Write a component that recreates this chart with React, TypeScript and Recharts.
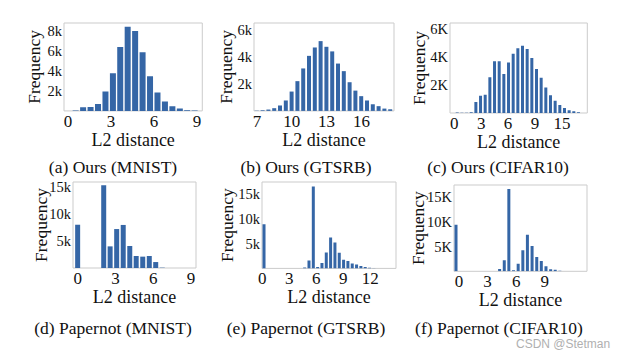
import React from "react";
import { BarChart, Bar, XAxis, YAxis, ReferenceArea, Label } from "recharts";

// Bin centres (L2 distance) and counts
const oursMnistBins = [0.53, 1.05, 1.57, 2.09, 2.61, 3.13, 3.64, 4.16, 4.68, 5.2, 5.72, 6.24, 6.76, 7.28, 7.8, 8.31, 8.83];
const oursMnistCounts = [30, 370, 400, 700, 1930, 3770, 6400, 8430, 8000, 5870, 3470, 1830, 930, 470, 230, 70, 30];

const oursGtsrbBins = [7, 7.5, 8, 8.5, 9, 9.5, 10, 10.5, 11, 11.5, 12, 12.5, 13, 13.5, 14, 14.5, 15, 15.5, 16, 16.5, 17, 17.5, 18, 18.5];
const oursGtsrbCounts = [20, 50, 100, 200, 400, 770, 1430, 2200, 3140, 4070, 4690, 5160, 4740, 4400, 3500, 2940, 2120, 1500, 1090, 770, 490, 350, 170, 120];

const oursCifarBins = [0.34, 0.86, 1.38, 1.9, 2.42, 2.94, 3.46, 3.98, 4.5, 5.02, 5.54, 6.06, 6.58, 7.1, 7.62, 8.14, 8.66, 9.18, 9.7, 10.22, 10.74, 11.26, 11.78, 12.3, 12.82, 13.34, 13.86];
const oursCifarCounts = [40, 20, 20, 60, 790, 1240, 1310, 2550, 3690, 3690, 2790, 3600, 4240, 4620, 4810, 4570, 3930, 3140, 2520, 1830, 1260, 880, 570, 360, 190, 120, 50];

const papMnistBins = [0, 2.07, 2.58, 3.1, 3.62, 4.14, 4.65, 5.17, 5.69, 6.2, 6.72];
const papMnistCounts = [8000, 15300, 4000, 7200, 7960, 4070, 2220, 2100, 2220, 1100, 60];

const papGtsrbBins = [0.2, 4.71, 5.19, 5.67, 6.15, 6.63, 7.11, 7.59, 8.07, 8.55, 9.03, 9.51, 9.99, 10.47, 10.95, 11.43, 11.91, 12.39];
const papGtsrbCounts = [8850, 200, 1600, 16400, 270, 1070, 3200, 6200, 5200, 3130, 1730, 1470, 1000, 800, 470, 270, 130, 50];

const papCifarBins = [-0.31, 4.27, 4.76, 5.24, 5.73, 6.22, 6.71, 7.19, 7.68, 8.17, 8.65, 9.14, 9.63, 10.11, 10.6];
const papCifarCounts = [9350, 470, 2200, 16500, 200, 1530, 4200, 7330, 5070, 2870, 2070, 1000, 400, 330, 130];

// Axis ticks
const ticksA = [0, 3, 6, 9];
const ticksB = [7, 10, 13, 16];
const ticksC = [0, 3, 6, 9, 12];
const labelsC = ["0", "3", "6", "9", "15"];
const ticksE = [0, 3, 6, 9, 12];
const yTicksTop = [2000, 4000, 6000];
const yTicksTopA = [2000, 4000, 6000, 8000];
const yTicksBottom = [5000, 10000, 15000];

const PAD_L = 52;
const PAD_T = 8;
const PAD_R = 8;
const PAD_B = 44;
const BAR_BLUE = "#3566a6";
const SPINE = "#cbcbcb";
const SERIF = '"Liberation Serif", "Times New Roman", serif';

const kFmt = (v: number) => `${v / 1000}k`;
const KFmt = (v: number) => `${v / 1000}K`;

const zip = (xs: number[], ns: number[]) => xs.map((x, i) => ({ x, n: ns[i] }));

interface PanelProps {
  box: { l: number; t: number; r: number; b: number };
  data: { x: number; n: number }[];
  xDomain: [number, number];
  xTicks: number[];
  xFmt?: (v: number) => string;
  yMax: number;
  yTicks: number[];
  yFmt: (v: number) => string;
  ylabelGap: number;
}

const Panel = ({ box, data, xDomain, xTicks, xFmt, yMax, yTicks, yFmt, ylabelGap }: PanelProps) => (
  <div style={{ position: "absolute", left: box.l - PAD_L, top: box.t - PAD_T }}>
    <BarChart
      width={box.r - box.l + PAD_L + PAD_R}
      height={box.b - box.t + PAD_T + PAD_B}
      data={data}
      margin={{ top: PAD_T, right: PAD_R, left: 0, bottom: 0 }}
      barCategoryGap={0.7}
    >
      <XAxis
        type="number"
        dataKey="x"
        domain={xDomain}
        ticks={xTicks}
        tickFormatter={xFmt}
        interval={0}
        allowDataOverflow
        axisLine={false}
        tickLine={false}
        tickSize={0}
        tickMargin={4}
        height={PAD_B}
        tick={{ fill: "#111", fontSize: 17 }}
      >
        <Label value="L2 distance" position="insideBottom" offset={PAD_B - 35} fill="#111" fontSize={18} />
      </XAxis>
      <YAxis
        type="number"
        domain={[0, yMax]}
        ticks={yTicks}
        tickFormatter={yFmt}
        interval={0}
        allowDataOverflow
        axisLine={false}
        tickLine={false}
        tickSize={0}
        tickMargin={2}
        width={PAD_L}
        tick={{ fill: "#111", fontSize: 14.5 }}
      >
        <Label
          value="Frequency"
          angle={-90}
          position="insideLeft"
          offset={PAD_L - ylabelGap}
          fill="#111"
          fontSize={17.5}
          style={{ textAnchor: "middle" }}
        />
      </YAxis>
      <Bar dataKey="n" fill={BAR_BLUE} isAnimationActive={false} />
      <ReferenceArea
        x1={xDomain[0]}
        x2={xDomain[1]}
        y1={0}
        y2={yMax}
        fill="none"
        stroke={SPINE}
        strokeWidth={1}
        ifOverflow="visible"
      />
    </BarChart>
  </div>
);

const captions = [
  { text: "(a) Ours (MNIST)", cx: 113, base: 174 },
  { text: "(b) Ours (GTSRB)", cx: 306, base: 174 },
  { text: "(c) Ours (CIFAR10)", cx: 498, base: 174 },
  { text: "(d) Papernot (MNIST)", cx: 113, base: 335 },
  { text: "(e) Papernot (GTSRB)", cx: 306, base: 335 },
  { text: "(f) Papernot (CIFAR10)", cx: 499, base: 335 },
];

const CAP_SIZE = 17.5;

export default function App() {
  return (
    <div style={{ position: "absolute", left: 0, top: 0, width: 625, height: 356, background: "#fff", fontFamily: SERIF, overflow: "hidden" }}>
      <Panel box={{ l: 64, t: 23.3, r: 202.3, b: 111.2 }} data={zip(oursMnistBins, oursMnistCounts)} xDomain={[-0.28, 9.37]} xTicks={ticksA} yMax={8800} yTicks={yTicksTopA} yFmt={kFmt} ylabelGap={30} />
      <Panel box={{ l: 254.3, t: 23.3, r: 394.3, b: 111.2 }} data={zip(oursGtsrbBins, oursGtsrbCounts)} xDomain={[6.74, 18.81]} xTicks={ticksB} yMax={6500} yTicks={yTicksTop} yFmt={kFmt} ylabelGap={28} />
      <Panel box={{ l: 450, t: 23.3, r: 587.3, b: 113.3 }} data={zip(oursCifarBins, oursCifarCounts)} xDomain={[-0.48, 14.83]} xTicks={ticksC} xFmt={(v) => labelsC[ticksC.indexOf(v)]} yMax={6430} yTicks={yTicksTop} yFmt={KFmt} ylabelGap={31} />
      <Panel box={{ l: 72.7, t: 182.3, r: 195.7, b: 268.3 }} data={zip(papMnistBins, papMnistCounts)} xDomain={[-0.37, 9.4]} xTicks={ticksA} yMax={15900} yTicks={yTicksBottom} yFmt={kFmt} ylabelGap={32} />
      <Panel box={{ l: 261.7, t: 182.3, r: 395.7, b: 268.7 }} data={zip(papGtsrbBins, papGtsrbCounts)} xDomain={[-0.02, 14.85]} xTicks={ticksE} yMax={17300} yTicks={yTicksBottom} yFmt={kFmt} ylabelGap={35} />
      <Panel box={{ l: 454.3, t: 184.7, r: 587.3, b: 271 }} data={zip(papCifarBins, papCifarCounts)} xDomain={[-0.53, 13.44]} xTicks={ticksA} yMax={17300} yTicks={yTicksBottom} yFmt={KFmt} ylabelGap={36} />

      {captions.map((c) => (
        <div
          key={c.text}
          style={{ position: "absolute", left: c.cx, top: c.base - 0.8375 * CAP_SIZE, transform: "translateX(-50%)", whiteSpace: "nowrap", fontSize: CAP_SIZE, lineHeight: 1, color: "#111" }}
        >
          {c.text}
        </div>
      ))}

      {/* watermark */}
      <div style={{ position: "absolute", left: 516, top: 338, fontFamily: '"Liberation Sans", Arial, sans-serif', fontSize: 12, lineHeight: 1, color: "#b0b0b0", whiteSpace: "nowrap" }}>
        CSDN @Stetman
      </div>
    </div>
  );
}
